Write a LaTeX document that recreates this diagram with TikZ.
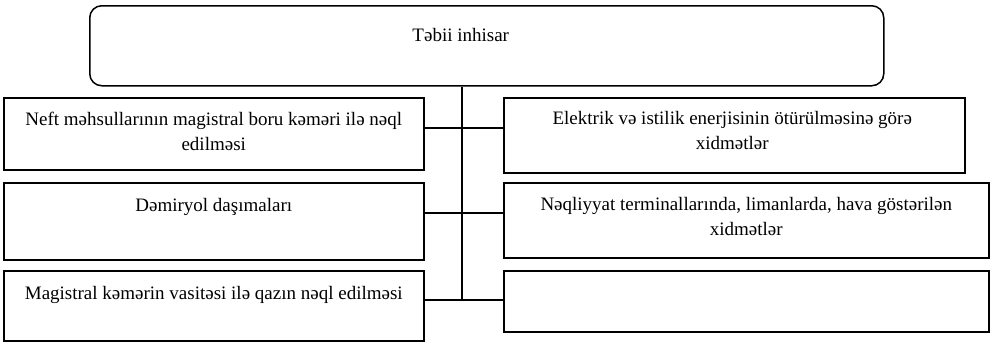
\documentclass[tikz,border=0pt]{standalone}
\usepackage{fontspec}
\setmainfont{Liberation Serif}
\usetikzlibrary{positioning}

\tikzset{
  box/.style={draw, line width=1.5pt, anchor=north west, inner sep=0pt},
  txt/.style={align=center, inner sep=0pt, font=\fontsize{19}{25}\selectfont},
  link/.style={line width=1.5pt}
}

\begin{document}
\begin{tikzpicture}[x=1pt, y=-1pt]
    \useasboundingbox (0,0) rectangle (992,341);

    % boxes
    \node[box, rounded corners=12pt, minimum width=794pt, minimum height=80pt] (tebii) at (89,5) {};
    \node[box, minimum width=420pt, minimum height=72pt] (l1) at (3,97) {};
    \node[box, minimum width=420pt, minimum height=77pt] (l2) at (3,182) {};
    \node[box, minimum width=420pt, minimum height=70pt] (l3) at (3,270) {};
    \node[box, minimum width=461pt, minimum height=75pt] (r1) at (503,97) {};
    \node[box, minimum width=485pt, minimum height=75pt] (r2) at (503,182) {};
    \node[box, minimum width=485pt, minimum height=61pt] (r3) at (503,270) {};

    % texts, near the top of each box
    \node[txt, below=23pt of tebii.north, xshift=-26pt] (ttebii) {Təbii inhisar};
    \node[txt, below=15pt of l1.north] (tl1) {Neft məhsullarının magistral boru kəməri ilə nəql\\edilməsi};
    \node[txt, below=16pt of l2.north] (tl2) {Dəmiryol daşımaları};
    \node[txt, below=16pt of l3.north] (tl3) {Magistral kəmərin vasitəsi ilə qazın nəql edilməsi};
    \node[txt, below=14pt of r1.north, xshift=-2pt] (tr1) {Elektrik və istilik enerjisinin ötürülməsinə görə\\xidmətlər};
    \node[txt, below=15pt of r2.north] (tr2) {Nəqliyyat terminallarında, limanlarda, hava göstərilən\\xidmətlər};

    % trunk and branches
    \coordinate (j1) at (462,128);
    \coordinate (j2) at (462,213);
    \coordinate (j3) at (462,300);
    \draw[link] (tebii.south -| j1) -- (j3);
    \draw[link] (l1.east |- j1) -- (r1.west |- j1);
    \draw[link] (l2.east |- j2) -- (r2.west |- j2);
    \draw[link] (l3.east |- j3) -- (r3.west |- j3);
\end{tikzpicture}
\end{document}
